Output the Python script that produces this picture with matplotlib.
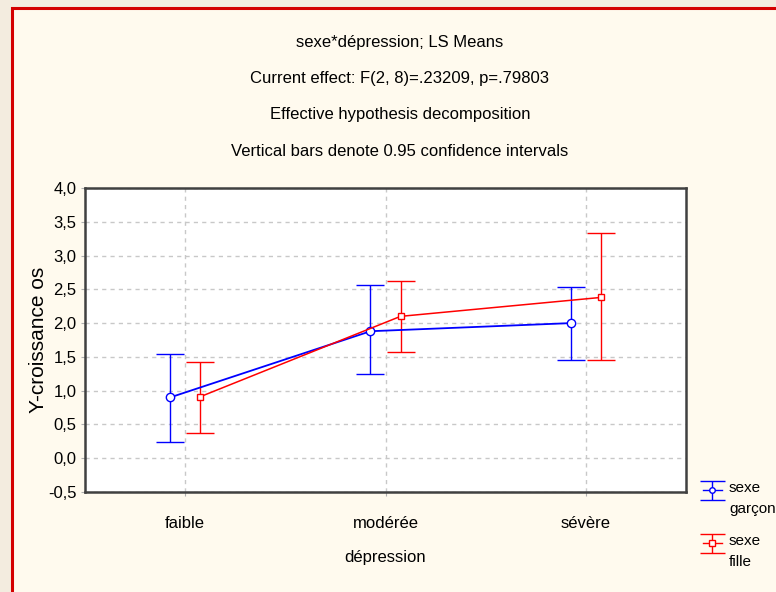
import matplotlib.pyplot as plt
import matplotlib.patches as mpatches
import numpy as np

categories = ['faible', 'modérée', 'sévère']
garcon_mean = [0.90, 1.88, 2.00]
garcon_low = [0.24, 1.24, 1.46]
garcon_high = [1.55, 2.56, 2.53]
fille_mean = [0.91, 2.10, 2.38]
fille_low = [0.37, 1.57, 1.46]
fille_high = [1.43, 2.63, 3.33]
yticks = [-0.5, 0.0, 0.5, 1.0, 1.5, 2.0, 2.5, 3.0, 3.5, 4.0]
legend_labels = ['sexe\ngarçon', 'sexe\nfille']

font = 'Liberation Sans'
fig = plt.figure(figsize=(7.76, 5.92), dpi=100, facecolor='#f3ecdf')

# cream panel with red border
fig.patches.append(mpatches.Rectangle((12/776, -0.01), 1, 1 - 8/592 + 0.01, transform=fig.transFigure,
                                      facecolor='#fffaee', edgecolor='#d40000', linewidth=2.2, zorder=-5))

ax = fig.add_axes([85/776, 1 - 492/592, (686-85)/776, (492-188)/592])
ax.set_facecolor('white')

x = np.arange(len(categories))
off = 0.075
g = np.array(garcon_mean)
f = np.array(fille_mean)
blue = dict(color='#0000ff', marker='o', ms=6, mfc='white', mec='#0000ff', mew=1.0)
red = dict(color='#ff0000', marker='s', ms=5, mfc='white', mec='#ff0000', mew=1.0)
ax.errorbar(x - off, g, yerr=[g - np.array(garcon_low), np.array(garcon_high) - g],
            lw=1.3, elinewidth=1.0, capsize=10, capthick=1.6, zorder=3, **blue)
ax.errorbar(x + off, f, yerr=[f - np.array(fille_low), np.array(fille_high) - f],
            lw=1.1, elinewidth=1.0, capsize=10, capthick=1.6, zorder=3, **red)

ax.set_xlim(-0.5, 2.5)
ax.set_ylim(-0.5, 4.0)
ax.set_xticks(x)
ax.set_xticklabels(categories, family=font, fontsize=12)
ax.set_yticks(yticks)
ax.set_yticklabels([f'{v:.1f}'.replace('.', ',') for v in yticks], family=font, fontsize=12)
ax.tick_params(length=3, color='#b0b0b0', pad=3)
ax.tick_params(axis='x', pad=14)
ax.grid(True, color='#c8c8c8', linestyle=(0, (3, 3)), linewidth=1.0)
for s in ax.spines.values():
    s.set_color('#404040')
    s.set_linewidth(1.8)

ax.set_xlabel('dépression', family=font, fontsize=12, labelpad=14)
ax.set_ylabel('Y-croissance os', family=font, fontsize=15, labelpad=0)

titles = ['sexe*dépression; LS Means',
          'Current effect: F(2, 8)=.23209, p=.79803',
          'Effective hypothesis decomposition',
          'Vertical bars denote 0.95 confidence intervals']
for t, yp in zip(titles, [42, 78, 115, 152]):
    fig.text(400/776, 1 - yp/592, t, ha='center', va='center', family=font, fontsize=12)

# legend drawn by hand in a pixel-space overlay
lax = fig.add_axes([0, 0, 1, 1])
lax.set_xlim(0, 776)
lax.set_ylim(592, 0)
lax.axis('off')
for i, (lab, st) in enumerate(zip(legend_labels, [blue, red])):
    yc = 490 + i * 53
    st = dict(st, ms=4)
    lax.errorbar([712], [yc], yerr=[[9.5], [9.5]], capsize=9, capthick=1.4, elinewidth=1.0,
                 **st)
    lax.plot([703, 722], [yc, yc], color=st['color'], lw=1.0)
    lax.text(729, yc - 9, lab, ha='left', va='top', family=font, fontsize=11, linespacing=1.6)

fig.savefig('out.png', dpi=100, facecolor=fig.get_facecolor())
